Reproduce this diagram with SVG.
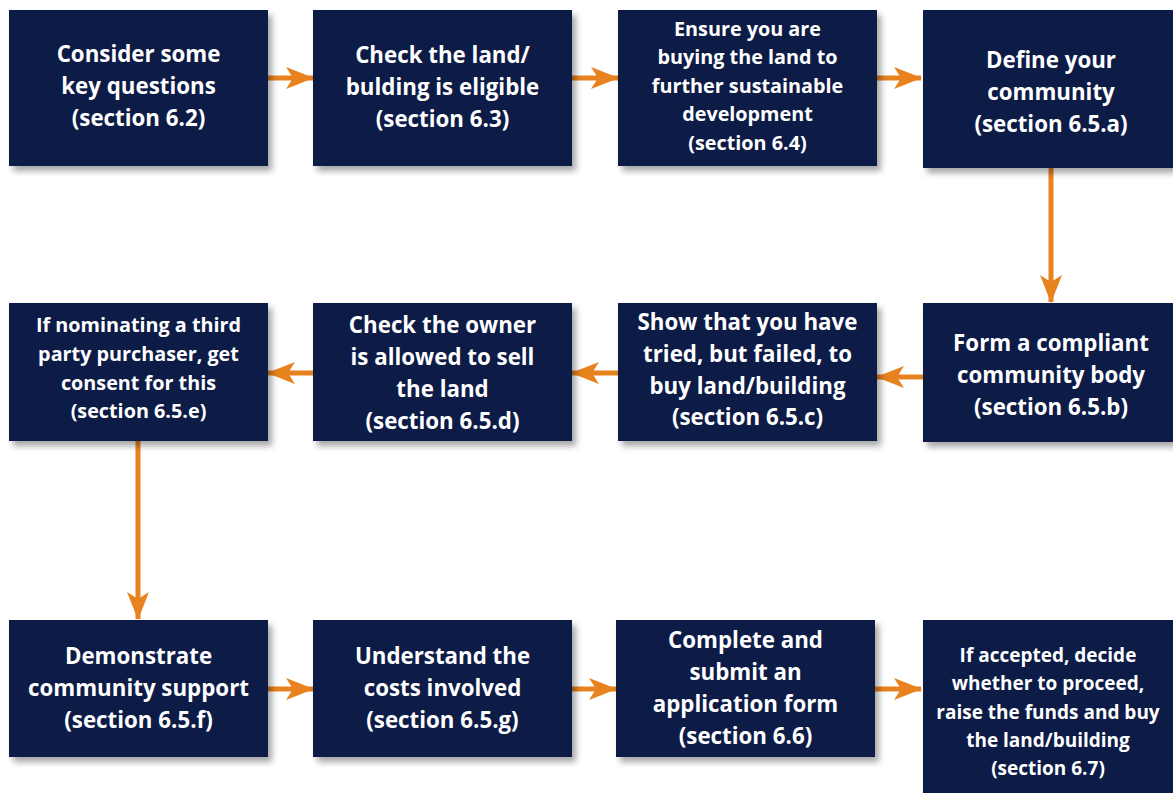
<svg xmlns="http://www.w3.org/2000/svg" width="1173" height="793" viewBox="0 0 1173 793">
<defs>
<filter id="sh" x="-10%" y="-10%" width="125%" height="130%">
<feDropShadow dx="4" dy="5" stdDeviation="3" flood-color="#000" flood-opacity="0.35"/>
</filter>
<marker id="ah" viewBox="0 0 28 24" refX="27" refY="12" markerWidth="28" markerHeight="24" markerUnits="userSpaceOnUse" orient="auto">
<path d="M0,1 L28,12 L0,23 L7,12 Z" fill="#e8821e"/>
</marker>
<style>
.box{fill:#0b1c46;filter:url(#sh)}
.t{fill:#fff;font-family:"Open Sans",Lato,sans-serif;font-weight:bold;font-size:22.3px;text-anchor:middle}
.s{font-size:19.8px}
.u{font-size:19px}
.c{stroke:#e8821e;stroke-width:5;fill:none;marker-end:url(#ah)}
</style>
</defs>
<rect width="1173" height="793" fill="#fff"/>
<g id="connectors">
<line class="c" x1="268" y1="78" x2="313" y2="78"/>
<line class="c" x1="572" y1="78" x2="618" y2="78"/>
<line class="c" x1="877" y1="78" x2="921" y2="78"/>
<line class="c" x1="1051" y1="168" x2="1051" y2="302"/>
<line class="c" x1="923" y1="377" x2="877" y2="377"/>
<line class="c" x1="618" y1="373" x2="572" y2="373"/>
<line class="c" x1="313" y1="373" x2="268" y2="373"/>
<line class="c" x1="138" y1="441" x2="138" y2="619"/>
<line class="c" x1="268" y1="689" x2="313" y2="689"/>
<line class="c" x1="572" y1="689" x2="616" y2="689"/>
<line class="c" x1="875" y1="689" x2="921" y2="689"/>
</g>
<g id="n1"><rect class="box" x="9" y="10" width="259" height="156"/>
<text class="t" x="138.5"><tspan x="138.5" y="62">Consider some</tspan><tspan x="138.5" y="94">key questions</tspan><tspan x="138.5" y="126">(section 6.2)</tspan></text></g>
<g id="n2"><rect class="box" x="313" y="10" width="259" height="156"/>
<text class="t"><tspan x="442.5" y="63">Check the land/</tspan><tspan x="442.5" y="95">bulding is eligible</tspan><tspan x="442.5" y="127">(section 6.3)</tspan></text></g>
<g id="n3"><rect class="box" x="618" y="10" width="259" height="156"/>
<text class="t s"><tspan x="747.5" y="36">Ensure you are</tspan><tspan x="747.5" y="64">buying the land to</tspan><tspan x="747.5" y="93">further sustainable</tspan><tspan x="747.5" y="121">development</tspan><tspan x="747.5" y="150">(section 6.4)</tspan></text></g>
<g id="n4"><rect class="box" x="923" y="10" width="250" height="158"/>
<text class="t"><tspan x="1051" y="68">Define your</tspan><tspan x="1051" y="100">community</tspan><tspan x="1051" y="132">(section 6.5.a)</tspan></text></g>
<g id="n5"><rect class="box" x="923" y="303" width="250" height="139"/>
<text class="t"><tspan x="1051" y="351">Form a compliant</tspan><tspan x="1051" y="383">community body</tspan><tspan x="1051" y="415">(section 6.5.b)</tspan></text></g>
<g id="n6"><rect class="box" x="618" y="303" width="259" height="138"/>
<text class="t"><tspan x="747.5" y="330">Show that you have</tspan><tspan x="747.5" y="362">tried, but failed, to</tspan><tspan x="747.5" y="394">buy land/building</tspan><tspan x="747.5" y="425">(section 6.5.c)</tspan></text></g>
<g id="n7"><rect class="box" x="313" y="303" width="259" height="138"/>
<text class="t"><tspan x="442.5" y="333">Check the owner</tspan><tspan x="442.5" y="365">is allowed to sell</tspan><tspan x="442.5" y="397">the land</tspan><tspan x="442.5" y="429">(section 6.5.d)</tspan></text></g>
<g id="n8"><rect class="box" x="9" y="303" width="259" height="138"/>
<text class="t s"><tspan x="138.5" y="332">If nominating a third</tspan><tspan x="138.5" y="361">party purchaser, get</tspan><tspan x="138.5" y="390">consent for this</tspan><tspan x="138.5" y="418">(section 6.5.e)</tspan></text></g>
<g id="n9"><rect class="box" x="9" y="620" width="259" height="137"/>
<text class="t"><tspan x="138.5" y="664">Demonstrate</tspan><tspan x="138.5" y="696">community support</tspan><tspan x="138.5" y="728">(section 6.5.f)</tspan></text></g>
<g id="n10"><rect class="box" x="313" y="620" width="259" height="137"/>
<text class="t"><tspan x="442.5" y="664">Understand the</tspan><tspan x="442.5" y="696">costs involved</tspan><tspan x="442.5" y="728">(section 6.5.g)</tspan></text></g>
<g id="n11"><rect class="box" x="616" y="620" width="259" height="137"/>
<text class="t"><tspan x="745.5" y="648">Complete and</tspan><tspan x="745.5" y="680">submit an</tspan><tspan x="745.5" y="712">application form</tspan><tspan x="745.5" y="744">(section 6.6)</tspan></text></g>
<g id="n12"><rect class="box" x="923" y="620" width="250" height="173"/>
<text class="t u"><tspan x="1048" y="662">If accepted, decide</tspan><tspan x="1048" y="690">whether to proceed,</tspan><tspan x="1048" y="719">raise the funds and buy</tspan><tspan x="1048" y="747">the land/building</tspan><tspan x="1048" y="775">(section 6.7)</tspan></text></g>
</svg>
